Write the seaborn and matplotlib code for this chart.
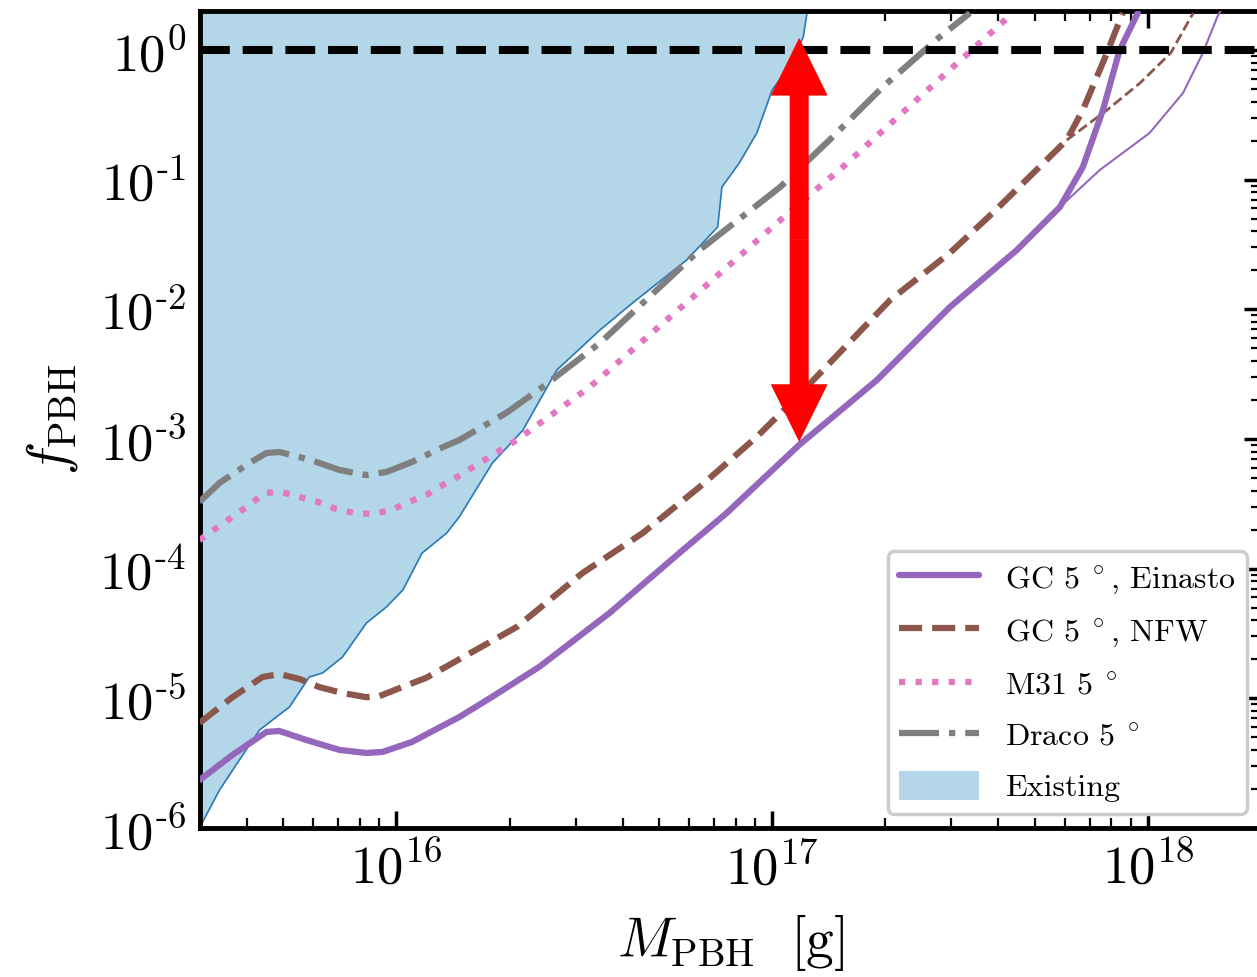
import numpy as np
import matplotlib
matplotlib.use("Agg")
import matplotlib.pyplot as plt
from matplotlib.patches import FancyArrowPatch, Patch
from matplotlib.lines import Line2D
from matplotlib import ticker
import seaborn as sns

# ---- data: PBH mass [g] and fraction f_PBH ----
einasto_m = [2.99e15, 3.66e15, 4.51e15, 4.88e15, 5.75e15, 7.05e15, 8.32e15, 9.18e15,
             1.10e16, 1.47e16, 1.80e16, 2.40e16, 3.69e16, 5.78e16, 7.57e16, 1.18e17,
             1.90e17, 2.97e17, 4.48e17, 5.83e17, 6.71e17, 7.59e17, 8.41e17, 9.40e17]
einasto_f = [2.34e-6, 3.66e-6, 5.51e-6, 5.60e-6, 4.78e-6, 4.00e-6, 3.79e-6, 3.86e-6,
             4.61e-6, 7.18e-6, 1.03e-5, 1.75e-5, 4.55e-5, 1.39e-4, 2.69e-4, 9.0e-4,
             2.85e-3, 1.04e-2, 2.87e-2, 6.15e-2, 0.125, 0.344, 1.0, 1.93]
einasto_alt_m = [5.83e17, 7.45e17, 1.01e18, 1.24e18, 1.40e18, 1.53e18, 1.56e18]
einasto_alt_f = [6.15e-2, 0.119, 0.229, 0.466, 0.948, 1.80, 2.0]

nfw_m = [2.99e15, 3.66e15, 4.40e15, 4.88e15, 5.52e15, 6.24e15, 7.18e15, 8.32e15,
         9.01e15, 1.02e16, 1.20e16, 1.41e16, 2.09e16, 3.13e16, 4.52e16, 6.41e16,
         9.10e16, 1.18e17, 2.06e17, 2.97e17, 3.86e17, 5.48e17, 6.08e17, 6.71e17,
         7.78e17, 8.57e17]
nfw_f = [6.46e-6, 1.02e-5, 1.46e-5, 1.54e-5, 1.41e-5, 1.22e-5, 1.10e-5, 1.02e-5,
         1.04e-5, 1.20e-5, 1.44e-5, 1.87e-5, 3.55e-5, 9.27e-5, 1.88e-4, 4.27e-4,
         1.04e-3, 2.19e-3, 1.18e-2, 2.72e-2, 5.53e-2, 0.150, 0.202, 0.344,
         0.948, 1.93]
nfw_alt_m = [6.08e17, 7.78e17, 9.53e17, 1.15e18, 1.32e18]
nfw_alt_f = [0.202, 0.344, 0.557, 0.948, 1.93]

m31_m = [2.99e15, 3.32e15, 3.66e15, 4.06e15, 4.45e15, 4.94e15, 5.52e15, 6.17e15,
         6.92e15, 7.73e15, 8.63e15, 9.70e15, 1.08e16, 1.20e16, 1.33e16, 1.45e16,
         2.09e16, 3.27e16, 6.41e16, 1.09e17, 1.54e17, 2.19e17, 3.03e17, 4.37e17]
m31_f = [1.66e-4, 2.06e-4, 2.51e-4, 3.10e-4, 3.84e-4, 3.90e-4, 3.57e-4, 3.27e-4,
         2.88e-4, 2.69e-4, 2.64e-4, 2.84e-4, 3.27e-4, 3.70e-4, 4.42e-4, 5.09e-4,
         9.82e-4, 2.52e-3, 1.38e-2, 5.35e-2, 0.125, 0.316, 0.740, 1.93]

draco_m = [2.99e15, 3.38e15, 4.06e15, 4.51e15, 4.88e15, 5.52e15, 6.24e15, 7.05e15,
           8.32e15, 9.40e15, 1.10e16, 1.33e16, 1.47e16, 1.96e16, 2.45e16, 3.48e16,
           6.41e16, 1.05e17, 1.42e17, 1.97e17, 2.79e17, 3.36e17]
draco_f = [3.27e-4, 4.58e-4, 6.53e-4, 7.80e-4, 7.94e-4, 7.27e-4, 6.53e-4, 5.77e-4,
           5.27e-4, 5.57e-4, 6.65e-4, 8.67e-4, 9.82e-4, 1.59e-3, 2.52e-3, 5.50e-3,
           2.87e-2, 8.77e-2, 0.202, 0.519, 1.26, 1.93]

existing_m = [2.99e15, 3.38e15, 3.82e15, 4.32e15, 4.79e15, 5.19e15, 5.86e15, 6.36e15,
              7.18e15, 8.32e15, 9.40e15, 1.04e16, 1.17e16, 1.36e16, 1.47e16, 1.80e16,
              2.17e16, 2.67e16, 3.48e16, 4.25e16, 5.92e16, 7.16e16, 7.35e16, 8.18e16,
              9.10e16, 1.00e17, 1.11e17, 1.21e17, 1.24e17]
existing_f = [1.0e-6, 1.96e-6, 3.35e-6, 5.70e-6, 7.18e-6, 8.57e-6, 1.46e-5, 1.57e-5,
              2.08e-5, 3.81e-5, 5.06e-5, 6.85e-5, 1.32e-4, 1.88e-4, 2.51e-4, 6.53e-4,
              1.17e-3, 3.40e-3, 6.93e-3, 1.12e-2, 2.40e-2, 4.32e-2, 8.77e-2, 0.135,
              0.229, 0.492, 0.740, 1.26, 2.0]

# gap between the two Galactic-Centre profiles
arrow_m = 1.18e17
arrow_f_top = 1.24
arrow_f_bottom = 9.5e-4

x_limits = (3e15, 2e18)
y_limits = (1e-6, 2.0)

# ---- style ----
sns.set_style("ticks")
plt.rcParams.update({
    "font.family": ["cmr10", "DejaVu Serif"],
    "mathtext.fontset": "cm",
    "axes.formatter.use_mathtext": True,
    "axes.linewidth": 3.5,
    "axes.edgecolor": "black",
    "xtick.color": "black",
    "ytick.color": "black",
    "text.color": "black",
    "axes.labelcolor": "black",
})

fig = plt.figure(figsize=(12.57, 9.77), dpi=100)
ax = fig.add_axes([200 / 1257, 149 / 977, 1061 / 1257, 817 / 977])
ax.set_xscale("log")
ax.set_yscale("log")
ax.set_xlim(*x_limits)
ax.set_ylim(*y_limits)

fill_color = "#b3d6e8"
ax.fill_between(existing_m, existing_f, 10.0, color=fill_color, lw=0, zorder=1)
sns.lineplot(x=existing_m, y=existing_f, ax=ax, color="#2a7ab8", lw=1.2,
             sort=False, estimator=None, zorder=2)

purple, brown, pink, gray = "#9467bd", "#8c564b", "#e377c2", "#7f7f7f"

sns.lineplot(x=einasto_alt_m, y=einasto_alt_f, ax=ax, color=purple, lw=1.5,
             sort=False, estimator=None, zorder=3)
sns.lineplot(x=nfw_alt_m, y=nfw_alt_f, ax=ax, color=brown, lw=2.0, linestyle="--",
             sort=False, estimator=None, zorder=3)
sns.lineplot(x=draco_m, y=draco_f, ax=ax, color=gray, lw=4.5, linestyle="-.",
             sort=False, estimator=None, zorder=4)
sns.lineplot(x=m31_m, y=m31_f, ax=ax, color=pink, lw=4.5, linestyle=":",
             sort=False, estimator=None, zorder=4)
sns.lineplot(x=nfw_m, y=nfw_f, ax=ax, color=brown, lw=4.5, linestyle="--",
             sort=False, estimator=None, zorder=4)
sns.lineplot(x=einasto_m, y=einasto_f, ax=ax, color=purple, lw=4.5,
             sort=False, estimator=None, zorder=4)

ax.axhline(1.0, color="black", lw=5.8, linestyle="--", zorder=5)

# double-headed red arrow, built from two single-headed halves
arrow_mid = np.sqrt(arrow_f_top * arrow_f_bottom)
for end in (arrow_f_top, arrow_f_bottom):
    ax.add_patch(FancyArrowPatch(
        (arrow_m, arrow_mid), (arrow_m, end),
        arrowstyle="simple,head_length=41.5,head_width=41,tail_width=13.7",
        mutation_scale=1, color="#ff0000", lw=0, shrinkA=0, shrinkB=0, zorder=6))


def power_label(value, _pos):
    exponent = int(round(np.log10(value)))
    exp_text = str(exponent).replace("-", r"\text{-}")
    return r"$10^{%s}$" % exp_text


# ---- axes ----
ax.tick_params(which="both", direction="in", top=True, right=True)
ax.tick_params(which="major", length=12, width=2.5, labelsize=38, pad=10)
ax.tick_params(which="minor", length=7, width=1.6)
for axis in (ax.xaxis, ax.yaxis):
    axis.set_major_locator(ticker.LogLocator(base=10, numticks=20))
    axis.set_minor_locator(ticker.LogLocator(base=10, subs=np.arange(2, 10), numticks=20))
    axis.set_major_formatter(ticker.FuncFormatter(power_label))
    axis.set_minor_formatter(ticker.NullFormatter())

ax.set_xlabel(r"$M_{\rm PBH}\ \ [{\rm g}]$", fontsize=40, labelpad=14)
ax.set_ylabel(r"$f_{\rm PBH}$", fontsize=40, labelpad=14)

handles = [
    Line2D([], [], color=purple, lw=4.5),
    Line2D([], [], color=brown, lw=4.5, linestyle="--"),
    Line2D([], [], color=pink, lw=4.5, linestyle=":"),
    Line2D([], [], color=gray, lw=4.5, linestyle="-."),
    Patch(facecolor=fill_color, edgecolor="none"),
]
labels = [r"GC 5$\;^\circ$, Einasto", r"GC 5$\;^\circ$, NFW", r"M31 5$\;^\circ$",
          r"Draco 5$\;^\circ$", "Existing"]
leg = ax.legend(handles, labels, loc="lower right", fontsize=23, frameon=True,
                fancybox=True, framealpha=1.0, edgecolor="0.8",
                handlelength=2.5, handleheight=1.0, handletextpad=0.8,
                labelspacing=0.62, borderpad=0.35, borderaxespad=0.45)
leg.get_frame().set_linewidth(2.5)
leg.set_zorder(10)

fig.savefig("out.png", dpi=100)
